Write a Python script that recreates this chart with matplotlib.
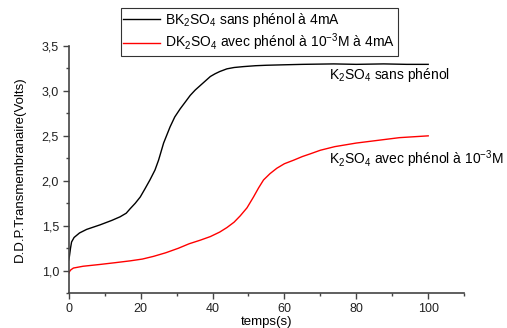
import matplotlib
matplotlib.use("Agg")
import matplotlib.pyplot as plt
from matplotlib.ticker import MultipleLocator, FuncFormatter

plt.rcParams['font.family'] = ['Liberation Sans', 'DejaVu Sans']
plt.rcParams['mathtext.fontset'] = 'custom'
plt.rcParams['mathtext.rm'] = 'Liberation Sans'
plt.rcParams['mathtext.it'] = 'Liberation Sans'

# courbe noire : K2SO4 sans phénol
t_noir = [0, 0.2, 0.5, 0.8, 1.5, 3, 5, 8.7, 12, 14.3, 16, 17.1, 18.5, 19.9, 21.2, 22.6,
          24.0, 25.0, 26.4, 28.2, 29.5, 31.0, 32.5, 33.8, 35.2, 36.6, 38, 39.4, 40.7, 42,
          44, 46, 48.6, 52, 55, 59.8, 65, 73.7, 80, 87.6, 94, 100]
v_noir = [1.12, 1.16, 1.25, 1.32, 1.37, 1.42, 1.46, 1.51, 1.56, 1.60, 1.64, 1.69, 1.75, 1.82,
          1.91, 2.01, 2.12, 2.23, 2.42, 2.60, 2.71, 2.80, 2.88, 2.95, 3.01, 3.06, 3.11, 3.16, 3.19,
          3.215, 3.245, 3.26, 3.27, 3.28, 3.285, 3.29, 3.295, 3.30, 3.295, 3.30, 3.295, 3.295]

# courbe rouge : K2SO4 avec phénol à 1e-3 M
t_rouge = [0, 0.2, 0.6, 1.3, 4, 8.7, 13, 17.1, 20.5, 23.6, 27, 30.5, 33.5, 36.6, 39.4,
           42, 44, 46, 47.7, 49.6, 51.4, 52.8, 54.2, 56, 57.9, 60, 62.6, 65, 67.2,
           70, 74, 80, 86, 92, 100]
v_rouge = [0.97, 0.99, 1.01, 1.03, 1.05, 1.07, 1.09, 1.11, 1.13, 1.16, 1.20, 1.25, 1.30, 1.34, 1.38,
           1.43, 1.48, 1.54, 1.61, 1.70, 1.82, 1.92, 2.01, 2.08, 2.14, 2.19, 2.23, 2.27, 2.30,
           2.34, 2.38, 2.42, 2.45, 2.48, 2.50]

fig = plt.figure(figsize=(5.07, 3.28), dpi=100)
ax = fig.add_axes([0.1355, 0.106, 0.78, 0.754])

ax.plot(t_noir, v_noir, color='black', lw=1.0,
        label=r'BK$_2$SO$_4$ sans phénol à 4mA')
ax.plot(t_rouge, v_rouge, color='red', lw=1.0,
        label=r'DK$_2$SO$_4$ avec phénol à 10$^{-3}$M à 4mA')

ax.set_xlim(0, 110)
ax.set_ylim(0.75, 3.5)
ax.xaxis.set_major_locator(MultipleLocator(20))
ax.xaxis.set_minor_locator(MultipleLocator(10))
ax.yaxis.set_major_locator(MultipleLocator(0.5))
ax.yaxis.set_minor_locator(MultipleLocator(0.25))
ax.yaxis.set_major_formatter(FuncFormatter(lambda v, p: f"{v:.1f}".replace('.', ',')))

for s in ['top', 'right']:
    ax.spines[s].set_visible(False)
for s in ['left', 'bottom']:
    ax.spines[s].set_color('#444444')
    ax.spines[s].set_linewidth(1.2)
ax.tick_params(which='both', direction='out', colors='#444444', labelcolor='#222222',
               labelsize=9, width=1)
ax.tick_params(which='major', length=4, pad=3)
ax.tick_params(which='minor', length=2.5)

ax.set_xlabel('temps(s)', fontsize=9.5)
ax.xaxis.set_label_coords(0.5, (293.3 - 322) / 247.3, transform=ax.transAxes)
ax.xaxis.label.set_va('center')
ax.set_ylabel('D.D.P.Transmembranaire(Volts)', fontsize=9.5)
ax.yaxis.set_label_coords(-(68.7 - 20) / 395.5, 0.5)
ax.yaxis.label.set_va('center')

ax.text(72.5, 3.18, r'K$_2$SO$_4$ sans phénol', fontsize=10, va='center')
ax.text(72.5, 2.24, r'K$_2$SO$_4$ avec phénol à 10$^{-3}$M', fontsize=10, va='center')

leg = fig.legend(loc='upper left', bbox_to_anchor=(120.7 / 507, 1 - 8.3 / 328),
                 fontsize=10, frameon=True, fancybox=False, edgecolor='black',
                 borderpad=0.2, labelspacing=0.2, handlelength=2.6, handletextpad=0.4,
                 borderaxespad=0)
leg.get_frame().set_linewidth(0.8)

fig.savefig('out.png', dpi=100)
